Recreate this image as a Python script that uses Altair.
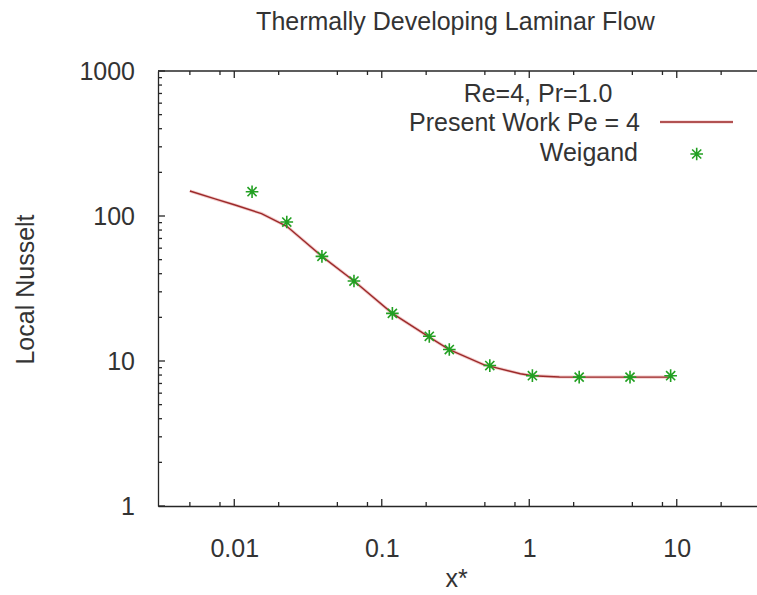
import altair as alt
import pandas as pd

# Weigand reference values: axial coordinate x* and local Nusselt number
weigand_x = [0.0132, 0.0227, 0.0393, 0.0648, 0.118, 0.210, 0.287, 0.54, 1.05, 2.18, 4.82, 9.09]
weigand_nu = [147.0, 90.9, 52.7, 35.6, 21.3, 14.8, 12.0, 9.3, 7.92, 7.74, 7.74, 7.92]

# Present work, Pe = 4
present_x = [0.005, 0.0075, 0.01, 0.0153, 0.0227, 0.0393, 0.0648, 0.118, 0.21,
             0.287, 0.49, 0.87, 1.05, 1.6, 4.8, 9.2]
present_nu = [148.8, 130.6, 119.5, 103.9, 84.9, 52.7, 35.6, 21.3, 14.6,
              12.0, 9.43, 8.17, 7.92, 7.76, 7.74, 7.74]

# Tick positions
x_major = [0.01, 0.1, 1, 10]
x_minor = [0.005, 0.008, 0.02, 0.05, 0.08, 0.2, 0.5, 0.8, 2, 5, 8, 20]
y_major = [1, 10, 100, 1000]
y_minor = [2, 3, 4, 5, 6, 7, 8, 9,
           20, 30, 40, 50, 60, 70, 80, 90,
           200, 300, 400, 500, 600, 700, 800, 900]

FONT = "Liberation Sans"
FS = 25
TXT = "#333333"
AX = "#262626"
RED = "#9c2a2a"
HALO = "#eaa6a6"
GREEN = "#22a022"
STAR = "M-1,0L1,0M0,-1L0,1M-0.72,-0.72L0.72,0.72M-0.72,0.72L0.72,-0.72"

W, H = 599, 435
MAJ, MIN = 7, 4

xs = alt.Scale(type="log", domain=[0.00304, 35], nice=False)
ys = alt.Scale(type="log", domain=[1, 1000], nice=False)

x_axis = alt.Axis(
    values=x_major, format="~g", ticks=False, grid=False,
    labelPadding=50, labelBaseline="alphabetic", labelFlush=False,
    labelOverlap=False, title="x*", titleX=298, titleY=80,
    titleBaseline="alphabetic", titleAlign="center")
y_axis = alt.Axis(
    values=y_major, format="~g", ticks=False, grid=False,
    labelPadding=23.5, labelFlush=False, labelOverlap=False,
    title="Local Nusselt", titleAngle=270, titleX=-124.5, titleY=218,
    titleBaseline="alphabetic", titleAlign="center")

present_df = pd.DataFrame({"x": present_x, "nu": present_nu})
weigand_df = pd.DataFrame({"x": weigand_x, "nu": weigand_nu})
one = alt.Data(values=[{"k": 0}])

# soft halo under the curve, then the curve itself
line_halo = alt.Chart(present_df).mark_line(color=HALO, strokeWidth=3.2, opacity=0.6).encode(
    x=alt.X("x:Q", scale=xs, axis=x_axis),
    y=alt.Y("nu:Q", scale=ys, axis=y_axis),
)
line = alt.Chart(present_df).mark_line(color=RED, strokeWidth=1.4).encode(
    x=alt.X("x:Q", scale=xs, axis=x_axis),
    y=alt.Y("nu:Q", scale=ys, axis=y_axis),
)

points = alt.Chart(weigand_df).mark_point(
    shape=STAR, filled=False, stroke=GREEN, strokeWidth=1.6, size=160, opacity=1
).encode(
    x=alt.X("x:Q", scale=xs, axis=x_axis),
    y=alt.Y("nu:Q", scale=ys, axis=y_axis),
)


def xticks(values, y0, y1):
    return alt.Chart(pd.DataFrame({"x": values})).mark_rule(
        color=AX, strokeWidth=1.3
    ).encode(x=alt.X("x:Q", scale=xs, axis=x_axis), y=alt.value(y0), y2=alt.value(y1))


def yticks(values, length):
    return alt.Chart(pd.DataFrame({"nu": values})).mark_rule(
        color=AX, strokeWidth=1.3
    ).encode(y=alt.Y("nu:Q", scale=ys, axis=y_axis), x=alt.value(0), x2=alt.value(length))


top_border = alt.Chart(one).mark_rule(color=AX, strokeWidth=1.3).encode(
    x=alt.value(0), x2=alt.value(W), y=alt.value(0)
)


def label(text, x, y, align):
    return alt.Chart(one).mark_text(
        text=text, align=align, baseline="alphabetic",
        font=FONT, fontSize=FS, color=TXT
    ).encode(x=alt.value(x), y=alt.value(y))


title = label("Thermally Developing Laminar Flow", 297.5, -41, "center")
key_title = label("Re=4, Pr=1.0", 380, 30.5, "center")
key_line_text = label("Present Work Pe = 4", 482, 60, "right")
key_point_text = label("Weigand", 480, 90, "right")

key_line_halo = alt.Chart(one).mark_rule(color=HALO, strokeWidth=3.2, opacity=0.6).encode(
    x=alt.value(502), x2=alt.value(575), y=alt.value(51)
)
key_line = alt.Chart(one).mark_rule(color=RED, strokeWidth=1.4).encode(
    x=alt.value(502), x2=alt.value(575), y=alt.value(51)
)
key_point = alt.Chart(one).mark_point(
    shape=STAR, filled=False, stroke=GREEN, strokeWidth=1.6, size=160, opacity=1
).encode(x=alt.value(538.7), y=alt.value(83))

chart = alt.layer(
    line_halo, line, points,
    xticks(x_major, H, H - MAJ), xticks(x_minor, H, H - MIN),
    xticks(x_major, 0, MAJ), xticks(x_minor, 0, MIN),
    yticks(y_major, MAJ), yticks(y_minor, MIN),
    top_border,
    title, key_title, key_line_text, key_point_text,
    key_line_halo, key_line, key_point,
).properties(
    width=W, height=H,
    autosize=alt.AutoSizeParams(type="none"),
    padding={"left": 158, "top": 71, "right": 0, "bottom": 89},
    background="white",
).configure_view(stroke=None).configure_axis(
    labelFont=FONT, labelFontSize=FS, labelColor=TXT,
    titleFont=FONT, titleFontSize=FS, titleFontWeight="normal", titleColor=TXT,
    domainColor=AX, domainWidth=1.3,
)

chart.save("out.html", embed_options={"renderer": "svg", "actions": False})
